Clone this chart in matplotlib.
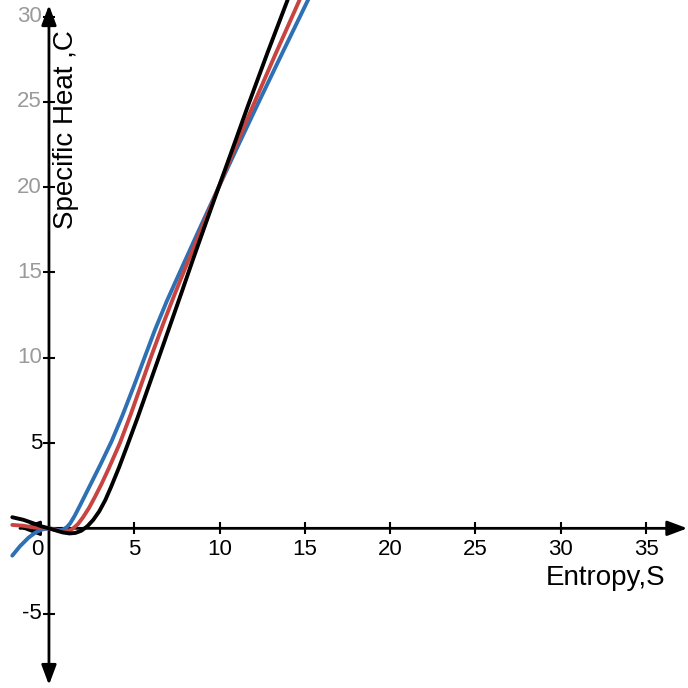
import matplotlib
matplotlib.use("Agg")
import matplotlib.pyplot as plt

plt.rcParams['font.family'] = ['Liberation Sans', 'DejaVu Sans']

# curve data (S, C)
blue_S = [-2.15, -1.7, -1.2, -0.8, -0.4, 0.0, 0.25, 0.5, 0.7, 0.85, 1.05, 1.25, 1.5, 1.8,
          2.1, 2.4, 3.0, 3.67, 4.3, 5.0, 5.6, 6.2, 6.9, 7.8, 8.8, 9.95, 11.0, 12.16, 13.6,
          15.2, 15.35]
blue_C = [-1.6, -1.05, -0.55, -0.25, -0.07, 0.0, -0.04, -0.09, -0.1, -0.06, 0.07, 0.3, 0.72, 1.3,
          1.9, 2.5, 3.7, 5.1, 6.6, 8.4, 10.0, 11.6, 13.3, 15.3, 17.5, 20.0, 22.25, 24.7, 27.7,
          31.0, 31.3]

red_S = [-2.15, -1.5, -0.9, -0.4, 0.0, 0.45, 0.9, 1.15, 1.4, 1.7, 2.0, 2.35, 2.7, 3.08, 3.5,
         4.16, 4.8, 5.4, 6.0, 6.7, 7.4, 8.13, 9.0, 9.95, 10.9, 11.93, 13.3, 14.68, 14.8]
red_C = [0.2, 0.15, 0.05, 0.01, 0.0, -0.12, -0.2, -0.15, -0.02, 0.25, 0.65, 1.2, 1.85, 2.6, 3.5,
         5.0, 6.7, 8.4, 10.1, 12.0, 13.8, 15.6, 17.7, 20.0, 22.3, 24.7, 27.85, 30.95, 31.25]

black_S = [-2.15, -1.5, -0.93, -0.45, 0.0, 0.4, 0.8, 1.2, 1.55, 1.9, 2.25, 2.6, 2.95, 3.3,
           3.65, 4.1, 4.59, 5.2, 5.8, 6.4, 7.1, 7.8, 8.42, 9.2, 9.95, 10.8, 11.64, 12.8,
           13.98, 14.1]
black_C = [0.65, 0.5, 0.3, 0.12, 0.0, -0.12, -0.24, -0.3, -0.27, -0.14, 0.12, 0.5, 1.0, 1.65,
           2.45, 3.55, 4.85, 6.5, 8.2, 9.9, 11.9, 13.9, 15.7, 17.9, 20.0, 22.35, 24.7, 27.85,
           30.95, 31.3]

x_ticks = [5, 10, 15, 20, 25, 30, 35]
y_ticks = [-5, 5, 10, 15, 20, 25, 30]
gray_y = [10, 15, 20, 25, 30]

fig = plt.figure(figsize=(6.88, 6.88), dpi=100)
ax = fig.add_axes([0, 0, 1, 1])
ax.set_xlim(-2.87, 37.46)
ax.set_ylim(-9.36, 30.97)
ax.axis('off')

head = '-|>,head_length=1.2,head_width=0.45'
# axes with arrows
ax.annotate('', xy=(37.42, 0), xytext=(-1.7, 0),
            arrowprops=dict(arrowstyle=head, mutation_scale=10,
                            lw=2, color='black', shrinkA=0, shrinkB=0), annotation_clip=False)
ax.annotate('', xy=(-1.7, 0), xytext=(0, 0),
            arrowprops=dict(arrowstyle=head, mutation_scale=10,
                            lw=2, color='black', shrinkA=0, shrinkB=0), annotation_clip=False)
ax.annotate('', xy=(0, 30.67), xytext=(0, -9.18),
            arrowprops=dict(arrowstyle='<|-|>,head_length=1.2,head_width=0.45', mutation_scale=10,
                            lw=2, color='black', shrinkA=0, shrinkB=0), annotation_clip=False)

# tick marks
ax.plot(x_ticks, [0] * len(x_ticks), ls='none', marker='|', ms=9, mew=1.5, color='black')
ax.plot([0] * len(y_ticks), y_ticks, ls='none', marker='_', ms=9, mew=1.5, color='black')

# curves
ax.plot(blue_S, blue_C, color='#2d70b3', lw=2.8, solid_capstyle='round',
        solid_joinstyle='round', zorder=5)
ax.plot(red_S, red_C, color='#c74440', lw=2.8, solid_capstyle='round',
        solid_joinstyle='round', zorder=5)
ax.plot(black_S, black_C, color='#000000', lw=2.8, solid_capstyle='round',
        solid_joinstyle='round', zorder=6)

# tick labels
for t in x_ticks:
    ax.annotate(str(t), (t, 0), xytext=(0, -15.5), textcoords='offset points',
                ha='center', va='center', fontsize=16, color='black')
ax.annotate('0', (0, 0), xytext=(-8.5, -15.5), textcoords='offset points',
            ha='center', va='center', fontsize=16, color='black')
for t in y_ticks:
    col = '#9a9a9a' if t in gray_y else 'black'
    ax.annotate(str(t), (0, t), xytext=(-5, 0), textcoords='offset points',
                ha='right', va='center', fontsize=16, color=col)

# axis labels
ax.text(66 / 688, 1 - 130 / 688, 'Specific Heat ,C', rotation=90, transform=ax.transAxes,
        ha='center', va='center', fontsize=20, color='black')
ax.text(606 / 688, 1 - 585 / 688, 'Entropy,S', transform=ax.transAxes,
        ha='center', va='baseline', fontsize=20, color='black')

fig.savefig('out.png', dpi=100)
